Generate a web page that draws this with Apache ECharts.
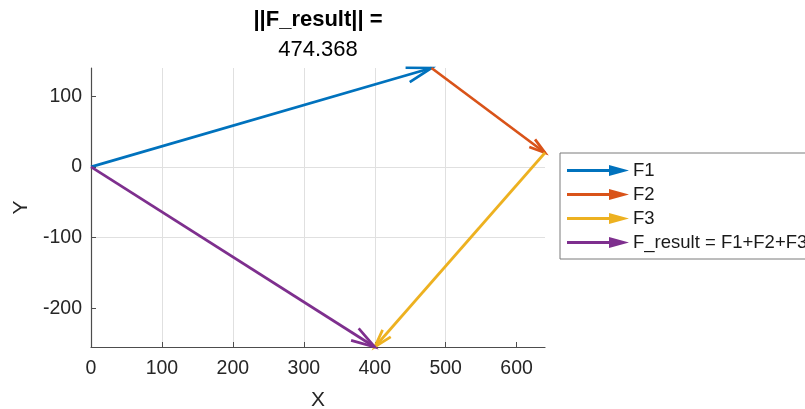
<!DOCTYPE html>
<html>
<head>
<meta charset="utf-8">
<script src="https://cdn.jsdelivr.net/npm/echarts@6/dist/echarts.min.js"></script>
<style>
  html, body { margin: 0; padding: 0; background: #fff; }
  #chart { width: 805px; height: 409px; }
</style>
</head>
<body>
<div id="chart"></div>
<script>
// Force vectors (x, y components), drawn tip-to-tail
const vectorNames = ['F1', 'F2', 'F3', 'F_result = F1+F2+F3'];
const F1 = [480, 140];
const F2 = [160, -120];
const F3 = [-240, -275];
const F_result = [400, -255];
const vectorColors = ['#0072BD', '#D95319', '#EDB120', '#7E2F8E'];

// Axis ranges and tick values
const xRange = [0, 640];
const yRange = [-255, 140];
const xTicks = [0, 100, 200, 300, 400, 500, 600];
const yTicks = [-200, -100, 0, 100];

// Tails: F1 at the origin, F2 at the tip of F1, F3 at the tip of F1+F2, resultant from the origin
const vectors = [F1, F2, F3, F_result];
const tails = [
  [0, 0],
  [F1[0], F1[1]],
  [F1[0] + F2[0], F1[1] + F2[1]],
  [0, 0]
];

const magnitude = Math.hypot(F_result[0], F_result[1]).toFixed(3);

const FONT = '"Liberation Sans", Arial, Helvetica, sans-serif';
const TEXT = '#262626';

// Arrow with an open V head, in the style of a quiver plot
function renderArrow(params, api) {
  const p0 = api.coord([api.value(0), api.value(1)]);
  const p1 = api.coord([api.value(2), api.value(3)]);
  const dx = p1[0] - p0[0], dy = p1[1] - p0[1];
  const len = Math.hypot(dx, dy);
  const ux = dx / len, uy = dy / len;
  const head = Math.min(26, Math.max(16, 0.07 * len));
  const half = head * 0.3;
  const bx = p1[0] - ux * head, by = p1[1] - uy * head;
  const color = api.visual('color');
  return {
    type: 'group',
    children: [
      {
        type: 'line',
        shape: { x1: p0[0], y1: p0[1], x2: p1[0], y2: p1[1] },
        style: { stroke: color, lineWidth: 2.7, lineCap: 'butt' }
      },
      {
        type: 'polyline',
        shape: { points: [[bx - uy * half, by + ux * half], [p1[0], p1[1]], [bx + uy * half, by - ux * half]] },
        style: { stroke: color, lineWidth: 2.7, fill: null, lineJoin: 'miter' }
      }
    ]
  };
}

const legendIcon = 'path://M0,4 L42,4 L42,0 L62,5.5 L42,11 L42,7 L0,7 Z';

const series = vectorNames.map((name, i) => ({
  type: 'custom',
  name: name,
  coordinateSystem: 'cartesian2d',
  renderItem: renderArrow,
  encode: { x: [0, 2], y: [1, 3] },
  itemStyle: { color: vectorColors[i] },
  data: [[
    tails[i][0], tails[i][1],
    tails[i][0] + vectors[i][0], tails[i][1] + vectors[i][1]
  ]],
  z: 3 + i
}));

const chart = echarts.init(document.getElementById('chart'), null, { renderer: 'canvas' });

chart.setOption({
  animation: false,
  backgroundColor: '#fff',
  title: [
    {
      text: '||F_result|| =',
      left: 318, top: 8,
      textAlign: 'center',
      textStyle: { fontFamily: FONT, fontSize: 22, fontWeight: 'bold', color: '#000', lineHeight: 23 },
      padding: 0
    },
    {
      text: magnitude,
      left: 318, top: 38,
      textAlign: 'center',
      textStyle: { fontFamily: FONT, fontSize: 22, fontWeight: 'normal', color: '#000', lineHeight: 23 },
      padding: 0
    }
  ],
  legend: {
    orient: 'vertical',
    left: 560, top: 153,
    padding: [8, 10, 7, 7],
    itemGap: 5,
    itemWidth: 62,
    itemHeight: 11,
    symbolKeepAspect: false,
    borderColor: '#7a7a7a',
    borderWidth: 1,
    backgroundColor: '#fff',
    itemStyle: { borderWidth: 0 },
    textStyle: { fontFamily: FONT, fontSize: 18.5, color: '#1a1a1a', lineHeight: 18, padding: [0, 0, 0, -1] },
    data: vectorNames.map(n => ({ name: n, icon: legendIcon }))
  },
  grid: { left: 91, right: 260, top: 68, bottom: 62, outerBoundsMode: 'none', containLabel: false },
  xAxis: {
    type: 'value',
    min: xRange[0], max: xRange[1],
    name: 'X',
    nameLocation: 'middle',
    nameGap: 43,
    nameTextStyle: { fontFamily: FONT, fontSize: 21, color: TEXT },
    axisLine: { show: true, onZero: false, lineStyle: { color: '#4d4d4d', width: 1.2 } },
    axisTick: { show: true, inside: true, length: 5, customValues: xTicks, lineStyle: { color: '#4d4d4d' } },
    axisLabel: { customValues: xTicks, margin: 12, fontFamily: FONT, fontSize: 19.5, color: TEXT },
    splitLine: { show: true, showMinLine: false, showMaxLine: false, lineStyle: { color: '#e0e0e0', width: 1 } }
  },
  yAxis: {
    type: 'value',
    min: yRange[0], max: yRange[1],
    name: 'Y',
    nameLocation: 'middle',
    nameGap: 57,
    nameTextStyle: { fontFamily: FONT, fontSize: 21, color: TEXT },
    axisLine: { show: true, onZero: false, lineStyle: { color: '#4d4d4d', width: 1.2 } },
    axisTick: { show: true, inside: true, length: 5, customValues: yTicks, lineStyle: { color: '#4d4d4d' } },
    axisLabel: { customValues: yTicks, margin: 9, fontFamily: FONT, fontSize: 19.5, color: TEXT },
    splitLine: { show: true, showMinLine: false, showMaxLine: false, lineStyle: { color: '#e0e0e0', width: 1 } }
  },
  series: series
});
</script>
</body>
</html>
